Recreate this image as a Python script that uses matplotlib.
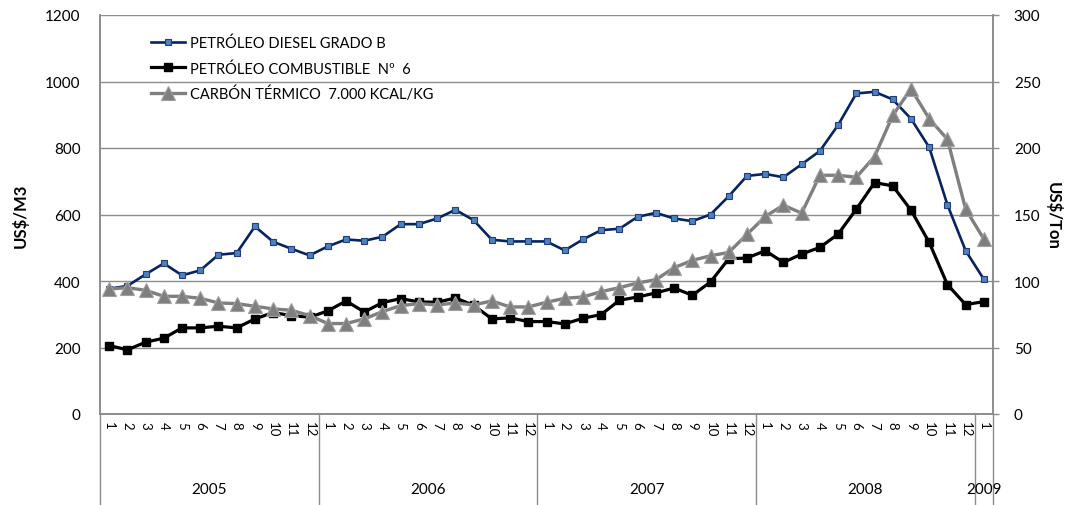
import matplotlib
matplotlib.use("Agg")
import matplotlib.pyplot as plt
import matplotlib.transforms as mtransforms

plt.rcParams['font.family'] = ['Lato', 'DejaVu Sans']

# monthly data, 2005-01 .. 2009-01
years = ['2005', '2006', '2007', '2008', '2009']
months = [str(m) for m in range(1, 13)] * 4 + ['1']

diesel = [377, 385, 420, 453, 417, 432, 479, 484, 564, 518, 497, 477,
          504, 525, 521, 533, 571, 571, 588, 614, 583, 524, 519, 519,
          519, 492, 525, 553, 557, 593, 605, 588, 580, 600, 655, 716,
          722, 712, 751, 791, 869, 964, 969, 946, 888, 802, 629, 491,
          405]
fuel6 = [206, 193, 216, 228, 259, 259, 264, 259, 286, 305, 296, 291,
         310, 340, 307, 335, 347, 337, 336, 349, 327, 286, 289, 278,
         278, 271, 288, 299, 342, 352, 364, 379, 357, 397, 467, 469,
         491, 456, 481, 501, 541, 616, 696, 686, 613, 516, 389, 329,
         338]
coal = [94, 95, 93, 88.5, 88.5, 87, 83.5, 83, 81, 79, 78, 74,
        68, 68, 71.5, 77, 81.5, 83, 82, 83.5, 82, 85, 80.5, 80.5,
        84, 87, 88, 92, 95, 98.5, 101, 110, 115.5, 119, 121.5, 135,
        148.5, 157, 151, 179.5, 179.5, 178, 193.5, 224.5, 244.5, 222, 206.5, 154,
        131.5]

x = list(range(len(months)))
grey = '#8c8c8c'

fig = plt.figure(figsize=(10.77, 5.06), dpi=100)
ax = fig.add_axes([100/1077, 1-415/506, 893/1077, 399/506])
ax2 = ax.twinx()

l1, = ax.plot(x, diesel, color='#062462', lw=1.9, marker='s', ms=4.2,
              mfc='#4f81bd', mec='#1f3d7a', mew=0.8, label='PETRÓLEO DIESEL GRADO B', zorder=3)
l2, = ax.plot(x, fuel6, color='black', lw=2.3, marker='s', ms=6.2,
              mfc='black', mec='black', label='PETRÓLEO COMBUSTIBLE  Nº  6', zorder=2)
l3, = ax2.plot(x, coal, color='#7f7f7f', lw=2.4, marker='^', ms=9.5,
               mfc='#7f7f7f', mec='#a0a0a0', mew=0.8, label='CARBÓN TÉRMICO  7.000 KCAL/KG')

ax.set_xlim(-0.5, len(x) - 0.5)
ax.set_ylim(0, 1200)
ax.set_yticks(range(0, 1201, 200))
ax2.set_ylim(0, 300)
ax2.set_yticks(range(0, 301, 50))
ax.yaxis.grid(True, color=grey, lw=1.0)
ax.set_axisbelow(True)

for a in (ax, ax2):
    a.spines['top'].set_visible(False)
    for s in ('left', 'right', 'bottom'):
        a.spines[s].set_color(grey)
        a.spines[s].set_linewidth(1.2)
ax.tick_params(axis='y', length=0, pad=14, labelsize=11)
ax2.tick_params(axis='y', length=4, color=grey, width=1.0, pad=11, labelsize=11)
ax.set_xticks(x)
ax.set_xticklabels(months, rotation=-90, fontsize=9.5)
ax.tick_params(axis='x', length=0, pad=5)

ax.set_ylabel('US$/M3', fontsize=12, fontweight='bold')
ax.yaxis.set_label_coords(-0.08, 0.5)
ax2.set_ylabel('US$/Ton', fontsize=12, fontweight='bold', rotation=-90)
ax2.yaxis.set_label_coords(1.077, 0.5)

# multi-level category axis: year groups
trans = mtransforms.blended_transform_factory(ax.transData, ax.transAxes)
bounds = [-0.5, 11.5, 23.5, 35.5, 47.5, 48.5]
for b in bounds:
    ax.plot([b, b], [0, -91/399], transform=trans, color=grey, lw=1.0, clip_on=False)
for i, yr in enumerate(years):
    ax.text((bounds[i] + bounds[i+1]) / 2, -75/399, yr, transform=trans,
            ha='center', va='center', fontsize=11)

fig.legend(handles=[l1, l2, l3], loc='upper left', bbox_to_anchor=(151/1077, 1-37/506),
           frameon=False, fontsize=10.5, handlelength=2.3, handletextpad=0.35,
           labelspacing=0.72, borderpad=0, borderaxespad=0)

fig.savefig('out.png', dpi=100)
